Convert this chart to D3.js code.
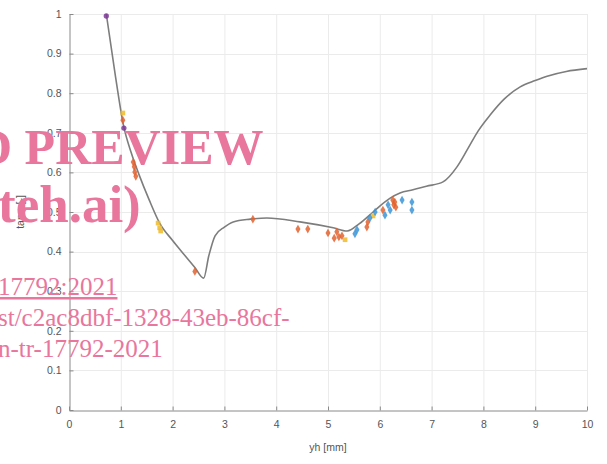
<!DOCTYPE html>
<html>
<head>
<meta charset="utf-8">
<script src="https://cdn.jsdelivr.net/npm/d3@7"></script>
<style>
  html, body { margin: 0; padding: 0; background: #fff; }
  svg { display: block; }
</style>
</head>
<body>
<div id="chart"></div>
<script>
// --- Data ---
const xTicks = [0, 1, 2, 3, 4, 5, 6, 7, 8, 9, 10];
const yTicks = [0, 0.1, 0.2, 0.3, 0.4, 0.5, 0.6, 0.7, 0.8, 0.9, 1];

// model curve (yh, tan phi)
const curveX = [0.72, 0.9, 1.05, 1.2, 1.35, 1.55, 1.75, 2.0, 2.2, 2.43, 2.6, 2.7, 2.82, 3.0, 3.17, 3.5, 3.82, 4.46, 5.1, 5.37, 5.6, 5.87, 6.0, 6.2, 6.39, 6.64, 6.9, 7.22, 7.49, 7.7, 7.9, 8.13, 8.4, 8.71, 9.0, 9.23, 9.6, 10];
const curveY = [1.0, 0.84, 0.72, 0.65, 0.595, 0.53, 0.472, 0.428, 0.396, 0.36, 0.333, 0.39, 0.44, 0.462, 0.475, 0.482, 0.485, 0.475, 0.46, 0.452, 0.47, 0.5, 0.515, 0.535, 0.548, 0.556, 0.565, 0.576, 0.614, 0.66, 0.705, 0.745, 0.785, 0.816, 0.832, 0.843, 0.855, 0.862];

// measured points by colour
const purpleX = [0.72, 1.06];
const purpleY = [0.995, 0.712];
const yellowX = [1.04, 1.72, 1.75, 1.77, 5.33, 5.87];
const yellowY = [0.75, 0.472, 0.46, 0.452, 0.43, 0.49];
const orangeX = [1.04, 1.24, 1.26, 1.27, 1.29, 2.43, 3.55, 4.42, 4.61, 5.0, 5.12, 5.17, 5.21, 5.27, 5.75, 5.77, 6.06, 6.25, 6.27, 6.29, 6.31];
const orangeY = [0.732, 0.626, 0.614, 0.601, 0.59, 0.35, 0.482, 0.457, 0.457, 0.447, 0.434, 0.45, 0.437, 0.44, 0.462, 0.475, 0.505, 0.53, 0.518, 0.525, 0.512];
const blueX = [5.52, 5.56, 5.81, 5.91, 6.1, 6.16, 6.2, 6.43, 6.62, 6.62];
const blueY = [0.445, 0.455, 0.485, 0.5, 0.492, 0.518, 0.505, 0.53, 0.525, 0.505];

const watermarkBig = ['D PREVIEW', 'teh.ai)'];
const watermarkSmall = ['17792:2021', 'st/c2ac8dbf-1328-43eb-86cf-', 'n-tr-17792-2021'];

const W = 607, H = 464;
const margin = { top: 14, right: 20, bottom: 54, left: 69 };

const svg = d3.select('#chart').append('svg')
  .attr('width', W).attr('height', H)
  .style('font-family', '"Liberation Sans", Arial, sans-serif');

const x = d3.scaleLinear().domain([0, 10]).range([margin.left, 587]);
const y = d3.scaleLinear().domain([0, 1]).range([410, margin.top]);

// --- grid ---
const grid = svg.append('g').attr('stroke', '#ebebeb').attr('stroke-width', 1);
grid.selectAll('.gx').data(xTicks.slice(1)).join('line')
  .attr('x1', d => x(d) + 0.5).attr('x2', d => x(d) + 0.5)
  .attr('y1', y(1)).attr('y2', y(0));
grid.selectAll('.gy').data(yTicks.slice(1)).join('line')
  .attr('y1', d => Math.round(y(d)) + 0.5).attr('y2', d => Math.round(y(d)) + 0.5)
  .attr('x1', x(0)).attr('x2', x(10));

// --- axes (MATLAB style, ticks inside) ---
const axisColor = '#8a8a8a';
const xAxis = svg.append('g')
  .attr('transform', `translate(0,${Math.round(y(0)) + 0.5})`)
  .call(d3.axisBottom(x).tickValues(xTicks).tickSizeInner(-4).tickSizeOuter(0).tickPadding(10));
const yAxis = svg.append('g')
  .attr('transform', `translate(${Math.round(x(0)) + 0.5},0)`)
  .call(d3.axisLeft(y).tickValues(yTicks).tickFormat(d3.format('~g')).tickSizeInner(-4).tickSizeOuter(0).tickPadding(8));
[xAxis, yAxis].forEach(a => {
  a.select('.domain').attr('stroke', axisColor);
  a.selectAll('.tick line').attr('stroke', axisColor);
  a.selectAll('.tick text').attr('fill', '#555').style('font-size', '10.5px');
});

// axis labels
svg.append('text')
  .attr('x', x(5)).attr('y', 451)
  .attr('text-anchor', 'middle').attr('fill', '#555').style('font-size', '10.5px')
  .text('yh [mm]');
svg.append('text')
  .attr('transform', `translate(24,${y(0.5)}) rotate(-90)`)
  .attr('text-anchor', 'middle').attr('fill', '#555').style('font-size', '10.5px')
  .text('tanφ [-]');

// --- curve ---
const curveData = curveX.map((v, i) => [v, curveY[i]]);
svg.append('path')
  .datum(curveData)
  .attr('fill', 'none')
  .attr('stroke', '#7d7d7d')
  .attr('stroke-width', 1.6)
  .attr('d', d3.line().x(d => x(d[0])).y(d => y(d[1])).curve(d3.curveMonotoneX));

// --- points ---
const series = [
  { xs: orangeX, ys: orangeY, color: '#e2622e', sym: d3.symbolDiamond },
  { xs: yellowX, ys: yellowY, color: '#eebb2a', sym: d3.symbolSquare },
  { xs: blueX, ys: blueY, color: '#3b95d8', sym: d3.symbolDiamond },
  { xs: purpleX, ys: purpleY, color: '#7e3a97', sym: d3.symbolCircle },
];
series.forEach(s => {
  const pts = s.xs.map((v, i) => [v, s.ys[i]]);
  svg.append('g').selectAll('path').data(pts).join('path')
    .attr('transform', d => `translate(${x(d[0])},${y(d[1])})`)
    .attr('d', d3.symbol().type(s.sym).size(22))
    .attr('fill', s.color)
    .attr('opacity', 0.85);
});

// --- preview watermark overlay ---
const wm = svg.append('g').attr('fill', '#e8769d')
  .style('font-family', '"Liberation Serif", "Times New Roman", serif');
wm.selectAll('.big').data(watermarkBig).join('text')
  .attr('x', (d, i) => i === 0 ? -24 : -2)
  .attr('y', (d, i) => i === 0 ? 164 : 222)
  .style('font-size', (d, i) => i === 0 ? '50px' : '53px').style('font-weight', 'bold')
  .text(d => d);
wm.selectAll('.small').data(watermarkSmall).join('text')
  .attr('x', -2)
  .attr('y', (d, i) => [295, 326, 357][i])
  .style('font-size', '25px')
  .style('text-decoration', (d, i) => i === 0 ? 'underline' : null)
  .text(d => d);
</script>
</body>
</html>
